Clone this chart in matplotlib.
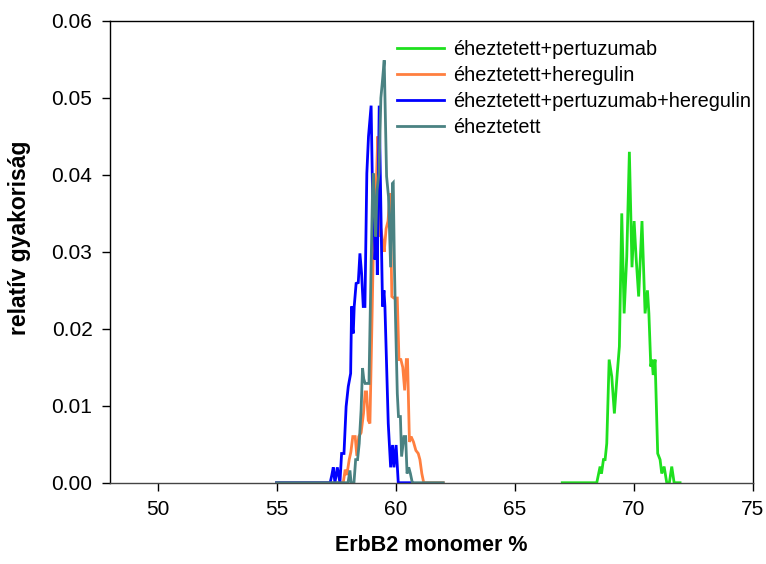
import matplotlib
matplotlib.use("Agg")
import matplotlib.pyplot as plt
from matplotlib.ticker import FormatStrFormatter

plt.rcParams['font.family'] = ['Liberation Sans', 'DejaVu Sans']

# éheztetett+pertuzumab (green)
green_x = [67.0, 68.45, 68.59, 68.65, 68.73, 68.8, 68.87, 68.97, 69.08, 69.19, 69.31, 69.4, 69.5,
           69.6, 69.71, 69.82, 69.93, 70.02, 70.1, 70.21, 70.35, 70.48, 70.58, 70.64, 70.72, 70.77,
           70.82, 70.9, 71.01, 71.11, 71.18, 71.28, 71.39, 71.5, 71.6, 71.7, 71.95]
green_y = [0, 0, 0.0021, 0.0012, 0.003, 0.003, 0.0051, 0.016, 0.0138, 0.009, 0.0142, 0.0177, 0.035,
           0.022, 0.0294, 0.043, 0.028, 0.034, 0.0294, 0.0242, 0.034, 0.022, 0.025, 0.022, 0.0151, 0.016,
           0.014, 0.016, 0.0038, 0.003, 0.0012, 0.0021, 0, 0, 0.0021, 0, 0]

# éheztetett+heregulin (orange)
orange_x = [55.0, 57.8, 57.88, 57.95, 58.05, 58.12, 58.2, 58.3, 58.37, 58.45, 58.55, 58.65, 58.72,
            58.78, 58.85, 58.92, 59.0, 59.08, 59.13, 59.2, 59.25, 59.3, 59.38, 59.45, 59.52, 59.6,
            59.68, 59.77, 59.84, 59.92, 60.0, 60.07, 60.14, 60.22, 60.3, 60.38, 60.45, 60.5, 60.58,
            60.65, 60.75, 60.85, 60.95, 61.02, 61.1, 61.18, 62.0]
orange_y = [0, 0, 0.0017, 0.001, 0.003, 0.004, 0.006, 0.006, 0.0035, 0.006, 0.0065, 0.009, 0.0118,
            0.0118, 0.0081, 0.0077, 0.02, 0.033, 0.0354, 0.04, 0.045, 0.032, 0.033, 0.0315, 0.03, 0.033,
            0.034, 0.0376, 0.0242, 0.024, 0.024, 0.024, 0.016, 0.016, 0.015, 0.012, 0.016, 0.016, 0.0053,
            0.006, 0.0053, 0.0042, 0.0038, 0.003, 0.0012, 0, 0]

# éheztetett+pertuzumab+heregulin (blue)
blue_x = [55.0, 57.25, 57.32, 57.38, 57.45, 57.55, 57.66, 57.73, 57.83, 57.92, 58.01, 58.11, 58.15,
          58.19, 58.22, 58.26, 58.34, 58.43, 58.5, 58.57, 58.64, 58.71, 58.79, 58.86, 58.97, 59.06,
          59.09, 59.13, 59.2, 59.23, 59.31, 59.41, 59.45, 59.51, 59.55, 59.69, 59.79, 59.87, 59.93,
          60.02, 60.11, 60.7]
blue_y = [0, 0, 0.001, 0.002, 0, 0.002, 0, 0.0038, 0.0038, 0.0099, 0.0125, 0.0142, 0.0229,
          0.02, 0.0194, 0.0229, 0.0259, 0.026, 0.0298, 0.0272, 0.0229, 0.0229, 0.0402, 0.045, 0.049, 0.032,
          0.036, 0.029, 0.033, 0.027, 0.049, 0.030, 0.0229, 0.025, 0.0229, 0.0077, 0.002, 0.0049, 0.002,
          0.0049, 0, 0]

# éheztetett (teal)
teal_x = [55.0, 58.0, 58.08, 58.13, 58.25, 58.32, 58.4, 58.47, 58.55, 58.61, 58.66, 58.72, 58.8,
          58.88, 58.95, 59.03, 59.06, 59.12, 59.16, 59.22, 59.3, 59.38, 59.44, 59.52, 59.62, 59.7,
          59.79, 59.87, 59.9, 59.95, 60.0, 60.07, 60.12, 60.2, 60.25, 60.35, 60.42, 60.48, 60.55,
          60.62, 60.7, 62.0]
teal_y = [0, 0, 0.0016, 0, 0, 0.003, 0.003, 0.0051, 0.0095, 0.0149, 0.0135, 0.0129, 0.0129,
          0.0129, 0.025, 0.038, 0.0402, 0.035, 0.032, 0.038, 0.0402, 0.05, 0.052, 0.0549, 0.0398, 0.0372,
          0.028, 0.0389, 0.039, 0.028, 0.0207, 0.0116, 0.0086, 0.0086, 0.0034, 0.006, 0.006, 0.0012, 0.002,
          0.0012, 0, 0]

labels = ["éheztetett+pertuzumab", "éheztetett+heregulin",
          "éheztetett+pertuzumab+heregulin", "éheztetett"]
colors = ["#1ee01e", "#ff7f3f", "#0000ff", "#4a8282"]
xticks = [50, 55, 60, 65, 70, 75]
yticks = [0.00, 0.01, 0.02, 0.03, 0.04, 0.05, 0.06]

fig = plt.figure(figsize=(7.66, 5.64), dpi=100)
ax = fig.add_axes([0.1436, 0.1441, 0.8390, 0.8187])

for xs, ys, c, lab in zip([green_x, orange_x, blue_x, teal_x],
                          [green_y, orange_y, blue_y, teal_y], colors, labels):
    ax.plot(xs, ys, color=c, lw=2.0, label=lab, solid_joinstyle='miter')

ax.set_xlim(48, 75)
ax.set_ylim(0, 0.06)
ax.set_xticks(xticks)
ax.set_yticks(yticks)
ax.yaxis.set_major_formatter(FormatStrFormatter('%.2f'))
ax.tick_params(direction='out', length=5.6, width=1, labelsize=15, top=False, right=False, pad=7)
for s in ax.spines.values():
    s.set_linewidth(1)
ax.spines['bottom'].set_color('#444444')

ax.set_xlabel("ErbB2 monomer %", fontsize=15.5, fontweight='bold', labelpad=11)
ax.set_ylabel("relatív gyakoriság", fontsize=16.5, fontweight='bold')
ax.yaxis.set_label_coords(-0.123, 0.53)

leg = ax.legend(loc='upper left', bbox_to_anchor=(397 / 766, 1 - 40 / 564),
                bbox_transform=fig.transFigure, frameon=False, fontsize=14.3,
                handlelength=2.35, handletextpad=0.5, labelspacing=0.36, borderpad=0,
                borderaxespad=0)

fig.savefig("out.png", dpi=100)
